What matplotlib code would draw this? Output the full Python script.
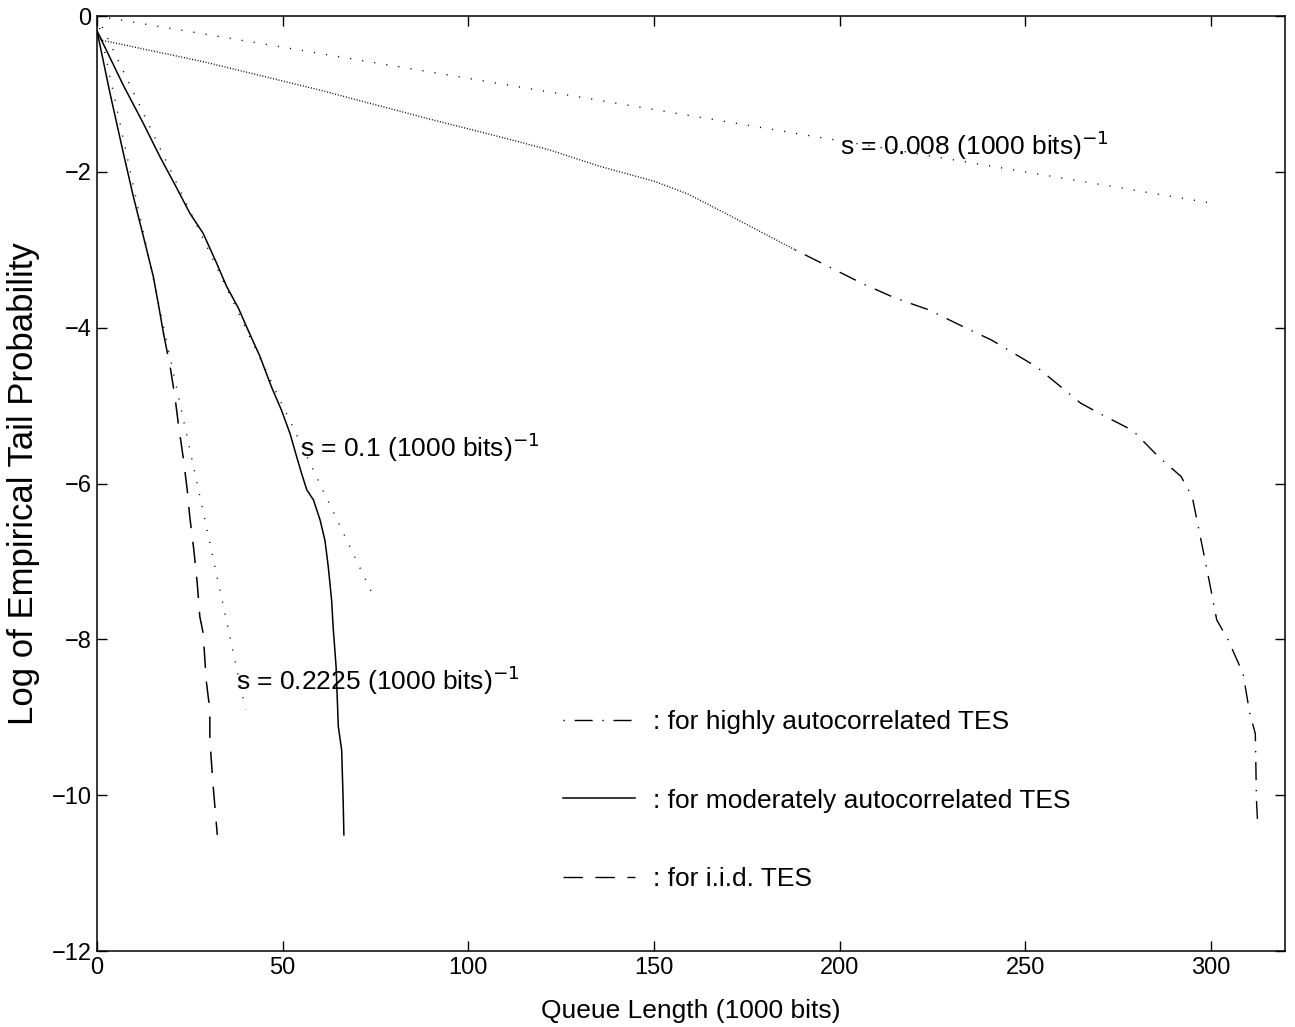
import numpy as np
import matplotlib
matplotlib.use('Agg')
import matplotlib.pyplot as plt

plt.rcParams['font.family'] = ['Liberation Sans', 'DejaVu Sans']
plt.rcParams['axes.unicode_minus'] = True

# empirical tail probability, highly autocorrelated TES (dash-dot)
high_x = [0, 1.3, 29, 60, 91, 106, 122, 135.5, 150, 159, 170, 182, 188, 206, 215, 224,
          233, 241, 253, 265, 270, 279, 286, 292, 295, 297, 299, 300.6, 301.6, 304.7,
          308.7, 310.5, 312, 312.3, 312.7]
high_y = [-0.19, -0.31, -0.59, -0.95, -1.34, -1.52, -1.72, -1.93, -2.12, -2.28, -2.55,
          -2.85, -3.0, -3.43, -3.62, -3.77, -3.98, -4.16, -4.5, -4.97, -5.1, -5.32,
          -5.66, -5.91, -6.17, -6.64, -7.11, -7.5, -7.75, -8.01, -8.44, -8.95, -9.21,
          -10.06, -10.43]

# moderately autocorrelated TES (solid)
mod_x = [0, 7.1, 12.5, 17.0, 21.5, 25, 28.6, 32.2, 34.9, 38.1, 40.3, 43.9, 47, 49.7,
         52, 53.8, 55.1, 56.5, 58.3, 60.1, 61.4, 62.3, 63.2, 63.6, 64.4, 65, 65.9,
         66.3, 66.5]
mod_y = [-0.19, -0.89, -1.38, -1.81, -2.21, -2.53, -2.79, -3.17, -3.47, -3.75, -3.99,
         -4.37, -4.76, -5.06, -5.36, -5.66, -5.87, -6.08, -6.21, -6.47, -6.73, -7.07,
         -7.5, -7.84, -8.35, -9.12, -9.42, -10.06, -10.51]

# i.i.d. TES (dashed)
iid_x = [0, 3.5, 7.1, 9.8, 12.5, 15.2, 16.8, 17.9, 19.7, 21, 21.9, 23.2, 24.3, 25,
         26.1, 27, 27.7, 28.6, 29.4, 30.4, 30.4, 31.3, 32.4]
iid_y = [-0.19, -0.99, -1.76, -2.32, -2.83, -3.35, -3.77, -4.07, -4.5, -4.89, -5.23,
         -5.66, -6.08, -6.43, -6.86, -7.28, -7.71, -7.92, -8.52, -8.91, -9.29, -9.89,
         -10.51]

# fitted decay rates s (1000 bits)^-1 and the x range of each fit line
fit_s = [0.008, 0.1, 0.2225]
fit_xmax = [300, 75, 40]
fit_labels = ['s = 0.008 (1000 bits)$^{-1}$', 's = 0.1 (1000 bits)$^{-1}$',
              's = 0.2225 (1000 bits)$^{-1}$']
fit_label_pos = [(200, -1.78), (54.7, -5.66), (37.4, -8.65)]

legend_labels = [': for highly autocorrelated TES',
                 ': for moderately autocorrelated TES',
                 ': for i.i.d. TES']

FS = 19
TICK_FS = 17

fig = plt.figure(figsize=(12.95, 10.27), dpi=100)
ax = fig.add_axes([0.0749, 0.0740, 0.9923 - 0.0749, 0.9844 - 0.0740])

dotted = (0, (0.8, 8))
dashdot = (0, (1, 7, 13, 7))
dashed = (0, (14, 9))

# fitted exponential decays
for s, xm in zip(fit_s, fit_xmax):
    xs = np.linspace(0, xm, 200)
    ax.plot(xs, -s * xs, color='black', linewidth=1, linestyle=dotted)

for (tx, ty), lab in zip(fit_label_pos, fit_labels):
    ax.text(tx, ty, lab, fontsize=FS, va='baseline', ha='left')

# highly autocorrelated: dense part looks finely dotted, rest dash-dot
hx = np.array(high_x)
hy = np.array(high_y)
split = 12
ax.plot(hx[:split + 1], hy[:split + 1], color='black', linewidth=1,
        linestyle=(0, (0.7, 1.3)))
ax.plot(hx[split:], hy[split:], color='black', linewidth=1, linestyle=dashdot)
h_high, = ax.plot([], [], color='black', linewidth=1, linestyle=dashdot)

h_mod, = ax.plot(mod_x, mod_y, color='black', linewidth=1.1)

ix = np.array(iid_x)
iy = np.array(iid_y)
isplit = 7
ax.plot(ix[:isplit + 1], iy[:isplit + 1], color='black', linewidth=1.1)
ax.plot(ix[isplit:], iy[isplit:], color='black', linewidth=1.1, linestyle=dashed)
h_iid, = ax.plot([], [], color='black', linewidth=1, linestyle=dashed)

leg = ax.legend([h_high, h_mod, h_iid], legend_labels, loc='upper left',
                bbox_to_anchor=(0.392, 0.2577), frameon=False, fontsize=FS,
                handlelength=2.73, handletextpad=0.68, labelspacing=2.07,
                borderpad=0, borderaxespad=0)

ax.set_xlim(0, 320)
ax.set_ylim(-12, 0)
ax.set_xticks([0, 50, 100, 150, 200, 250, 300])
ax.set_yticks([-12, -10, -8, -6, -4, -2, 0])
ax.tick_params(direction='in', length=7, width=1, top=True, right=True,
               labelsize=TICK_FS, pad=4)
for sp in ax.spines.values():
    sp.set_linewidth(1.1)

ax.set_xlabel('Queue Length (1000 bits)', fontsize=FS, labelpad=15)
ax.set_ylabel('Log of Empirical Tail Probability', fontsize=25, labelpad=8)

fig.savefig('out.png', dpi=100)
